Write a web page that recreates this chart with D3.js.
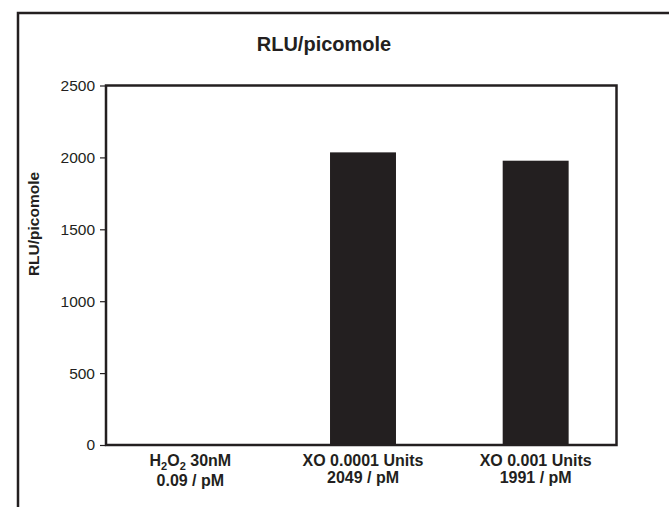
<!DOCTYPE html>
<html>
<head>
<meta charset="utf-8">
<script src="https://cdn.jsdelivr.net/npm/d3@7"></script>
<style>
  html, body { margin: 0; padding: 0; background: #fff; }
  svg { display: block; font-family: "Liberation Sans", Arial, Helvetica, sans-serif; }
</style>
</head>
<body>
<svg id="chart" width="669" height="507"></svg>
<script>
// ---- data ----
const categories = ["H2O2 30nM", "XO 0.0001 Units", "XO 0.001 Units"];
const subLabels = ["0.09 / pM", "2049 / pM", "1991 / pM"];
const values = [0.09, 2035, 1977];
const yTicks = [0, 500, 1000, 1500, 2000, 2500];
const title = "RLU/picomole";
const yTitle = "RLU/picomole";

const ink = "#231f20";
const svg = d3.select("#chart");

// outer frame (extends past the window on right/bottom)
svg.append("rect")
  .attr("x", 18).attr("y", 13)
  .attr("width", 720).attr("height", 600)
  .attr("fill", "none").attr("stroke", ink).attr("stroke-width", 2.5);

const plot = { left: 106, right: 616.5, top: 85.5, bottom: 445 };

const y = d3.scaleLinear().domain([0, 2500]).range([plot.bottom, plot.top]);
const x = d3.scaleBand().domain(categories).range([104, 622])
  .paddingInner(0.618).paddingOuter(0.309);

// bars
svg.append("g").selectAll("rect").data(values).join("rect")
  .attr("x", (d, i) => x(categories[i]))
  .attr("width", x.bandwidth())
  .attr("y", d => y(d))
  .attr("height", d => y(0) - y(d))
  .attr("fill", ink);

// plot box
svg.append("rect")
  .attr("x", plot.left).attr("y", plot.top)
  .attr("width", plot.right - plot.left).attr("height", plot.bottom - plot.top)
  .attr("fill", "none").attr("stroke", ink).attr("stroke-width", 2.5);

// y axis
const yAxis = d3.axisLeft(y).tickValues(yTicks).tickSize(6).tickPadding(5).tickFormat(d3.format("d"));
const gy = svg.append("g").attr("transform", `translate(${plot.left},0)`).call(yAxis);
gy.select(".domain").remove();
gy.selectAll(".tick line").attr("stroke", ink).attr("stroke-width", 1.2);
gy.selectAll(".tick text")
  .attr("fill", ink)
  .style("font-size", "15.5px")
  .style("font-family", "'Liberation Sans', Arial, sans-serif");

// title
svg.append("text")
  .attr("x", 324).attr("y", 51)
  .attr("text-anchor", "middle")
  .attr("font-weight", "bold").attr("font-size", 20)
  .attr("fill", ink)
  .text(title);

// y title
svg.append("text")
  .attr("transform", "translate(39,224) rotate(-90)")
  .attr("text-anchor", "middle")
  .attr("font-weight", "bold").attr("font-size", 15.5)
  .attr("fill", ink)
  .text(yTitle);

// category labels
const cx = c => x(c) + x.bandwidth() / 2;
const lab = svg.append("g").attr("fill", ink).attr("font-weight", "bold").attr("font-size", 16)
  .attr("text-anchor", "middle");

categories.forEach((c, i) => {
  const t = lab.append("text").attr("x", cx(c)).attr("y", 466);
  if (i === 0) {
    t.append("tspan").text("H");
    t.append("tspan").attr("font-size", 11).attr("dy", 4).text("2");
    t.append("tspan").attr("dy", -4).text("O");
    t.append("tspan").attr("font-size", 11).attr("dy", 4).text("2");
    t.append("tspan").attr("dy", -4).text(" 30nM");
  } else {
    t.text(c);
  }
  lab.append("text").attr("x", cx(c)).attr("y", i === 0 ? 486 : 482.5).text(subLabels[i]);
});
</script>
</body>
</html>
